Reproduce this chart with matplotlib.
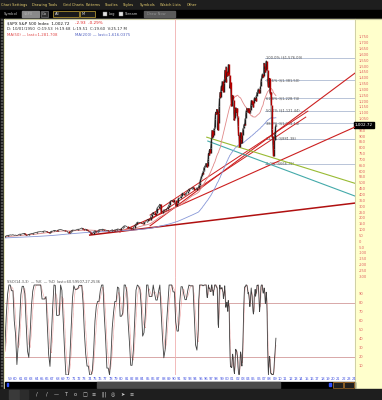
import matplotlib
matplotlib.use("Agg")
import matplotlib.pyplot as plt
from matplotlib.patches import Rectangle
import numpy as np
import pandas as pd

W, H = 382, 400

# S&P 500 quarterly closes 1950-1994
q_close = [
    17.3, 17.7, 19.5, 20.4, 21.4, 21.0, 23.3, 23.8, 24.4, 25.0, 25.0, 26.6,
    25.3, 24.1, 23.3, 24.8, 26.9, 29.2, 32.3, 36.0, 36.6, 41.0, 43.7, 45.5,
    48.5, 47.0, 45.4, 46.7, 44.1, 47.4, 42.4, 40.0, 42.1, 45.2, 50.1, 55.2,
    55.4, 58.5, 56.9, 59.9, 55.3, 56.9, 53.5, 58.1, 65.1, 64.6, 66.7, 71.6,
    69.6, 54.8, 56.3, 63.1, 66.6, 69.4, 71.7, 75.0, 79.0, 81.7, 84.2, 84.8,
    86.2, 84.1, 90.0, 92.4, 89.2, 84.7, 77.0, 80.3, 90.2, 90.6, 96.7, 96.5,
    90.2, 99.6, 102.7, 103.9, 101.5, 97.7, 93.1, 92.1, 89.6, 72.7, 84.2, 92.2,
    100.3, 99.7, 98.3, 102.1, 107.2, 107.1, 110.6, 118.1, 111.5, 104.3, 108.4, 97.6,
    94.0, 86.0, 63.5, 68.6, 83.4, 95.2, 83.9, 90.2, 102.8, 104.3, 105.2, 107.5,
    98.4, 100.5, 96.5, 95.1, 89.2, 95.5, 102.5, 96.1, 101.6, 102.9, 109.3, 107.9,
    102.1, 114.2, 125.5, 135.8, 136.0, 131.2, 116.2, 122.6, 112.0, 109.6, 120.4, 140.6,
    153.0, 168.1, 166.1, 164.9, 159.2, 153.2, 166.1, 167.2, 180.7, 191.9, 182.1, 211.3,
    238.9, 250.8, 231.3, 242.2, 291.7, 304.0, 321.8, 247.1, 258.9, 273.5, 271.9, 277.7,
    294.9, 318.0, 349.2, 353.4, 339.9, 358.0, 306.1, 330.2, 375.2, 371.2, 387.9, 417.1,
    403.7, 408.1, 417.8, 435.7, 451.7, 450.5, 458.9, 466.5, 445.8, 444.3, 462.7, 459.3,
]

# monthly closes Jan 1995 - Aug 2009
m_close = [
    470.4, 487.4, 500.7, 514.7, 533.4, 544.8, 562.1, 561.9, 584.4, 581.5, 605.4, 615.9,
    636.0, 640.4, 645.5, 654.2, 669.1, 670.6, 639.9, 652.0, 687.3, 705.3, 757.0, 740.7,
    786.2, 790.8, 757.1, 801.3, 848.3, 885.1, 954.3, 899.5, 947.3, 914.6, 955.4, 970.4,
    980.3, 1049.3, 1101.8, 1111.8, 1090.8, 1133.8, 1120.7, 957.3, 1017.0, 1098.7, 1163.6, 1229.2,
    1279.6, 1238.3, 1286.4, 1335.2, 1301.8, 1372.7, 1328.7, 1320.4, 1282.7, 1362.9, 1389.0, 1469.3,
    1394.5, 1366.4, 1498.6, 1452.4, 1420.6, 1454.6, 1430.8, 1517.7, 1436.5, 1429.4, 1315.2, 1320.3,
    1366.0, 1239.9, 1160.3, 1249.5, 1255.8, 1224.4, 1211.2, 1133.6, 1040.9, 1059.8, 1139.5, 1148.1,
    1130.2, 1106.7, 1147.4, 1076.9, 1067.1, 989.8, 911.6, 916.1, 815.3, 885.8, 936.3, 879.8,
    855.7, 841.2, 848.2, 916.9, 963.6, 974.5, 990.3, 1008.0, 996.0, 1050.7, 1058.2, 1111.9,
    1131.1, 1144.9, 1126.2, 1107.3, 1120.7, 1140.8, 1101.7, 1104.2, 1114.6, 1130.2, 1173.8, 1211.9,
    1181.3, 1203.6, 1180.6, 1156.9, 1191.5, 1191.3, 1234.2, 1220.3, 1228.8, 1207.0, 1249.5, 1248.3,
    1280.1, 1280.7, 1294.8, 1310.6, 1270.1, 1270.2, 1276.7, 1303.8, 1335.9, 1377.9, 1400.6, 1418.3,
    1438.2, 1406.8, 1420.9, 1482.4, 1530.6, 1503.4, 1455.3, 1474.0, 1526.8, 1549.4, 1481.1, 1468.4,
    1378.6, 1330.6, 1322.7, 1385.6, 1400.4, 1280.0, 1267.4, 1282.8, 1166.4, 968.8, 896.2, 903.3,
    825.9, 735.1, 797.9, 872.8, 919.1, 919.3, 987.5, 1002.7,
]

fib_pct = [100.0, 78.6, 61.8, 50.0, 38.2, 23.6, 0.0]
fib_low, fib_high = 666.79, 1576.09
fib_start = 2007.6

# drawn trendlines: (year0, price0, year1, price1, colour, width)
trend_lines = [
    (1974.5, 57, 2024.6, 331, "#b01010", 1.1),
    (1980.2, 83, 2024.6, 982, "#cc2020", 0.8),
    (1985.9, 136, 2024.6, 1444, "#cc2020", 0.8),
    (1985.9, 228, 2015.7, 1118, "#cc2020", 0.7),
    (1985.9, 186, 2015.3, 1067, "#cc2020", 0.7),
    (1996.6, 895, 2024.6, 500, "#99bb33", 0.8),
    (1996.8, 862, 2024.6, 391, "#44aaaa", 0.8),
]

price_ticks = list(range(-300, 1751, 50))
stoch_ticks = list(range(10, 91, 10))
label_years = list(range(1959, 2025))
cursor_year = 1990.6

# ---------- series ----------
q_dates = pd.date_range("1950-03-31", periods=len(q_close), freq="QE")
m_dates = pd.date_range("1995-01-31", periods=len(m_close), freq="ME")
close = pd.Series(q_close + m_close, index=q_dates.append(m_dates))
t = close.index.year + (close.index.dayofyear - 1) / 365.25

ma50 = close.rolling("1521D").mean()
ma200 = close.rolling("6088D").mean()
hh = close.rolling("426D").max()
ll = close.rolling("426D").min()
fast_k = 100 * (close - ll) / (hh - ll).replace(0, np.nan)
slow_k = fast_k.rolling(3, min_periods=1).mean()
slow_d = slow_k.rolling(3, min_periods=1).mean()


def px(x0, y0, x1, y1):
    return [x0 / W, 1 - y1 / H, (x1 - x0) / W, (y1 - y0) / H]


fig = plt.figure(figsize=(W / 100, H / 100), dpi=100)
fig.patch.set_facecolor("#1c1c1c")

# ---------- toolbars ----------
bg = fig.add_axes([0, 0, 1, 1])
bg.set_xlim(0, W)
bg.set_ylim(H, 0)
bg.axis("off")
bg.add_patch(Rectangle((0, 0), W, 10, color="#1e1e1e"))
bg.add_patch(Rectangle((0, 10), W, 8, color="#000000"))
menu = ["Chart Settings", "Drawing Tools", "Grid Charts", "Patterns", "Studies",
        "Styles", "Symbols", "Watch Lists", "Other"]
menu_x = [1, 32, 63, 86, 105, 123, 140, 160, 187]
for m, x in zip(menu, menu_x):
    bg.text(x, 5, m, color="#e8d070", fontsize=2.6, va="center")
bg.text(4, 13.8, "Symbol", color="#c8c8c8", fontsize=2.6, va="center")
bg.add_patch(Rectangle((22, 11), 17, 6, color="#8a8a8a"))
bg.text(24, 13.8, "$SPX", color="#b0b0b0", fontsize=2.6, va="center")
bg.add_patch(Rectangle((40.5, 11), 7, 6, fc="#303030", ec="#909090", lw=0.4))
bg.text(41.5, 13.8, "Go", color="#d0d0d0", fontsize=2.6, va="center")
bg.add_patch(Rectangle((53, 11), 26, 6, fc="#1a1a1a", ec="#c8a838", lw=0.5))
bg.text(55, 13.8, "All", color="#e0e0e0", fontsize=2.6, va="center")
bg.add_patch(Rectangle((80, 11), 15, 6, fc="#1a1a1a", ec="#c8a838", lw=0.5))
bg.text(82, 13.8, "M", color="#e0e0e0", fontsize=2.6, va="center")
bg.add_patch(Rectangle((103, 12), 4, 4, fc="#e0e0e0", ec="#808080", lw=0.3))
bg.text(108.5, 13.8, "Log", color="#c8c8c8", fontsize=2.6, va="center")
bg.add_patch(Rectangle((119, 12), 4, 4, fc="#e0e0e0", ec="#808080", lw=0.3))
bg.text(124.5, 13.8, "Stream", color="#c8c8c8", fontsize=2.6, va="center")
bg.add_patch(Rectangle((144, 11), 31, 6, color="#5a5a5a"))
bg.text(147, 13.8, "Draw Now", color="#909090", fontsize=2.6, va="center")

# chart frame, right axis panel, scrollbar
bg.add_patch(Rectangle((0, 18), 5, 372, color="#101010"))
for yy in np.arange(19, 388, 3):
    bg.add_patch(Rectangle((1, yy), 1.4, 1.4, color="#505050"))
bg.add_patch(Rectangle((3.6, 18.5), 1.2, 370, color="#e6e6b0"))
bg.add_patch(Rectangle((5, 18.5), 350, 370, color="white"))
bg.add_patch(Rectangle((355, 18.5), 27, 370, color="#ffffcc"))
bg.plot([4.5, 382], [18.8, 18.8], color="#c8c8a0", lw=0.8)
bg.plot([355, 355], [18.8, 388], color="#c8c8a0", lw=0.6)
bg.add_patch(Rectangle((5, 381.5), 350, 6.5, color="#000000"))
bg.add_patch(Rectangle((97, 382), 183, 5.5, color="#4a4a4a"))
bg.add_patch(Rectangle((6.5, 383), 1.6, 3, color="#3050ff"))
bg.add_patch(Rectangle((329, 383), 1.6, 3, color="#3050ff"))
for x in (333, 344):
    bg.add_patch(Rectangle((x, 382), 10, 5.5, fc="#202020", ec="#c08030", lw=0.5))
bg.add_patch(Rectangle((0, 389), W, 11, color="#1e1e1e"))
bg.add_patch(Rectangle((9, 390), 10, 9, color="#3a3a3a"))
bg.add_patch(Rectangle((20, 390), 8, 9, color="#2c2c2c"))
for i, g in enumerate(["/", "/", "—", "T", "o", "□", "≡", "|||", "◎", "➤", "≡"]):
    bg.text(37 + i * 9.5, 394.5, g, color="#d0d0d0", fontsize=3.6, ha="center", va="center")

# ---------- price panel ----------
ax1 = fig.add_axes(px(5, 19, 355, 277))
ax1.set_xlim(1958.5, 2024.6)
ax1.set_ylim(-302, 1907)
ax1.patch.set_alpha(0)
for s in ax1.spines.values():
    s.set_visible(False)
ax1.set_xticks([])
ax1.set_yticks([])

# fibonacci retracement
for p in fib_pct:
    lvl = fib_low + p / 100 * (fib_high - fib_low)
    ax1.plot([fib_start, 2024.6], [lvl, lvl], color="#b8c4d8", lw=0.7, zorder=2)
    ax1.text(fib_start + 0.1, lvl, f"{p:.1f}% (${lvl:,.2f})", fontsize=2.6,
             color="#505050", va="center", zorder=3)

for x0, y0, x1, y1, c, lw in trend_lines:
    ax1.plot([x0, x1], [y0, y1], color=c, lw=lw, zorder=4)

ax1.plot(t, ma200, color="#8898d8", lw=0.6, zorder=5)
ax1.plot(t, ma50, color="#e08888", lw=0.6, zorder=5)

prev = close.shift(1).bfill()
up = close >= prev
ax1.plot(t, close, color="#303030", lw=0.5, zorder=6)
ax1.vlines(t[up], prev[up], close[up], color="#202020", lw=1.0, zorder=7)
ax1.vlines(t[~up], prev[~up], close[~up], color="#b00000", lw=1.0, zorder=7)

ax1.axvline(cursor_year, color="#f0b0b0", lw=0.6, zorder=1)

for v in price_ticks:
    if v == 1000:
        continue
    ax1.text(1.01, v, f"{v:,}", transform=ax1.get_yaxis_transform(), fontsize=2.6,
             color="#e06060", va="center", clip_on=False)
last = close.iloc[-1]
ax1.text(1.0, last, "1,002.72", transform=ax1.get_yaxis_transform(), fontsize=3,
         color="white", va="center", clip_on=False,
         bbox=dict(boxstyle="square,pad=0.25", fc="black", ec="black"))

ax1.text(0.005, 0.992, "$SPX S&P 500 Index  1,002.72 ", transform=ax1.transAxes,
         fontsize=3, va="top", color="#101010")
ax1.text(0.2, 0.992, "-2.93  -0.29%", transform=ax1.transAxes, fontsize=3,
         va="top", color="#e02020")
ax1.text(0.005, 0.968, "D: 10/01/1950  O:19.53  H:19.68  L:19.51  C:19.60  V:25.17 M",
         transform=ax1.transAxes, fontsize=2.8, va="top", color="#303030")
ax1.text(0.005, 0.946, "MA(50) — last=1,281.708", transform=ax1.transAxes,
         fontsize=2.8, va="top", color="#e04848")
ax1.text(0.2, 0.946, "MA(200) — last=1,616.0375", transform=ax1.transAxes,
         fontsize=2.8, va="top", color="#5060c0")

# ---------- stochastic panel ----------
ax2 = fig.add_axes(px(5, 277, 355, 375))
ax2.set_xlim(1958.5, 2024.6)
ax2.set_ylim(0, 108.9)
ax2.patch.set_alpha(0)
for s in ax2.spines.values():
    s.set_visible(False)
ax2.set_yticks([])
ax2.axhline(80, color="#d8a8a8", lw=0.7)
ax2.axhline(20, color="#d8a8a8", lw=0.7)
ax2.axvline(cursor_year, color="#f0b0b0", lw=0.6)
ax2.plot(t, slow_d, color="#e05050", lw=0.4, ls=(0, (1, 1)))
ax2.plot(t, slow_k, color="#404040", lw=0.6)
for v in stoch_ticks:
    ax2.text(1.01, v, str(v), transform=ax2.get_yaxis_transform(), fontsize=2.6,
             color="#e06060", va="center", clip_on=False)
ax2.text(0.005, 0.97, "SSO(14,3,3)  — %K  — %D  last=60.59507,27.2536",
         transform=ax2.transAxes, fontsize=2.6, va="top", color="#505050")
ax2.set_xticks([y + 0.45 for y in label_years])
ax2.set_xticklabels([f"{y % 100:02d}" for y in label_years])
ax2.tick_params(axis="x", length=0, pad=1.5, labelsize=2.6, labelcolor="#4050e0")

fig.savefig("out.png", dpi=100, facecolor=fig.get_facecolor())
